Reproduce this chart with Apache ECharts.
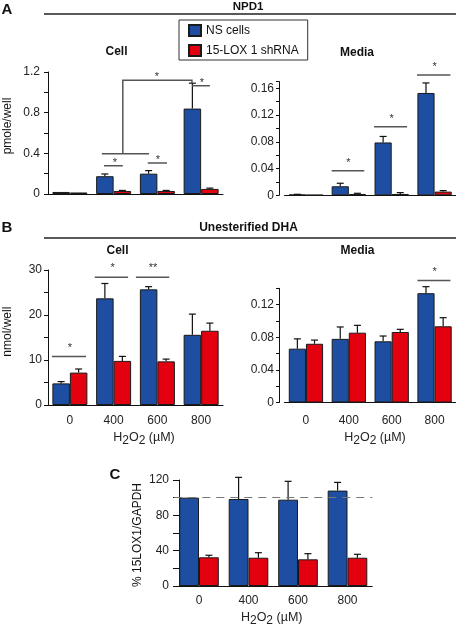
<!DOCTYPE html>
<html>
<head>
<meta charset="utf-8">
<script src="https://cdn.jsdelivr.net/npm/echarts/dist/echarts.min.js"></script>
<style>html,body{margin:0;padding:0;background:#fff;}#c{width:456px;height:624px;}</style>
</head>
<body>
<div id="c"></div>
<script>
// ---------- data ----------
const categories = ['0', '400', '600', '800'];
const seriesNames = ['NS cells', '15-LOX 1 shRNA'];

// A: NPD1 cell (pmole/well)
const npd1CellNS = [0.02, 0.175, 0.2, 0.84];
const npd1CellNSErr = [0, 0.022, 0.03, 0.25];
const npd1CellKD = [0.015, 0.03, 0.03, 0.05];
const npd1CellKDErr = [0, 0.005, 0.005, 0.008];
// A: NPD1 media
const npd1MediaNS = [0.001, 0.0135, 0.079, 0.153];
const npd1MediaNSErr = [0.0005, 0.0045, 0.009, 0.015];
const npd1MediaKD = [0.0005, 0.002, 0.002, 0.0055];
const npd1MediaKDErr = [0, 0.001, 0.002, 0.0015];
// B: unesterified DHA cell (nmol/well)
const dhaCellNS = [4.8, 23.7, 25.7, 15.6];
const dhaCellNSErr = [0.4, 3.3, 0.6, 4.6];
const dhaCellKD = [7.2, 9.8, 9.7, 16.5];
const dhaCellKDErr = [0.8, 1.0, 0.5, 1.7];
// B: unesterified DHA media
const dhaMediaNS = [0.066, 0.078, 0.075, 0.134];
const dhaMediaNSErr = [0.012, 0.0146, 0.0065, 0.008];
const dhaMediaKD = [0.072, 0.0856, 0.0864, 0.0934];
const dhaMediaKDErr = [0.0045, 0.009, 0.0033, 0.0106];
// C: % 15LOX1/GAPDH
const loxNS = [100, 98.5, 97.7, 108];
const loxNSErr = [0, 24.5, 20.8, 9.3];
const loxKD = [32.5, 32, 30.2, 32];
const loxKDErr = [2.3, 5.7, 6.4, 3.9];
const loxReference = 100;

// significance brackets (x in category units, y in data units)
const sigCellA = [
  [[0.78, 0.278], [1.21, 0.278]],
  [[1.78, 0.305], [2.22, 0.305]],
  [[0.73, 0.396], [1.81, 0.396]],
  [[1.21, 0.396], [1.21, 1.12], [2.79, 1.12], [2.79, 1.09]],
  [[2.79, 1.065], [3.2, 1.065]]
];
const starsCellA = [[1.03, 0.334, '*'], [2.01, 0.357, '*'], [1.99, 1.18, '*'], [3.02, 1.12, '*']];
const sigMediaA = [
  [[0.6, 0.0368], [1.36, 0.0368]],
  [[1.59, 0.1026], [2.36, 0.1026]],
  [[2.59, 0.18], [3.37, 0.18]]
];
const starsMediaA = [[0.99, 0.0528, '*'], [2.0, 0.1175, '*'], [3.0, 0.196, '*']];
const sigCellB = [
  [[-0.41, 10.8], [0.37, 10.8]],
  [[0.57, 28.4], [1.33, 28.4]],
  [[1.51, 28.4], [2.27, 28.4]]
];
const starsCellB = [[0, 13.2, '*'], [0.98, 30.9, '*'], [1.9, 30.9, '**']];
const sigMediaB = [
  [[2.6, 0.1495], [3.37, 0.1495]]
];
const starsMediaB = [[3.0, 0.163, '*']];

// ---------- styling ----------
const FONT = 'Liberation Sans, Arial, Helvetica, sans-serif';
const BLUE = '#1d4ea1';
const RED = '#e3000f';
const OFF = 0.2; // bar centre offset in category units

const chart = echarts.init(document.getElementById('c'), null, {renderer: 'canvas'});

function fmtTick(major) {
  return function (v) {
    const k = v / major;
    if (Math.abs(k - Math.round(k)) > 1e-6) return '';
    return String(+v.toFixed(3));
  };
}

const grids = [
  {left: 48, top: 72, width: 175, height: 122},
  {left: 284.5, top: 81.6, width: 171.5, height: 113.7},
  {left: 48, top: 270, width: 175, height: 135},
  {left: 284.5, top: 288.3, width: 171.5, height: 114.2},
  {left: 174.25, top: 480, width: 198, height: 106}
].map(g => Object.assign({outerBoundsMode: 'none', containLabel: false}, g));

const yCfg = [
  {max: 1.2, interval: 0.2, major: 0.4, offset: 0, tickLen: 4, margin: 8},
  {max: 0.17, interval: 0.02, major: 0.04, offset: 5.5, tickLen: 3, margin: 5},
  {max: 30, interval: 5, major: 10, offset: 0, tickLen: 4, margin: 6},
  {max: 0.14, interval: 0.02, major: 0.04, offset: 5.5, tickLen: 3, margin: 5},
  {max: 120, interval: 20, major: 40, offset: -4.75, tickLen: 6, margin: 10}
];
const showXLabels = [false, false, true, true, true];
const xLabelMargin = [10, 10, 10, 12, 9];

const xAxes = [], yAxes = [];
grids.forEach((g, i) => {
  xAxes.push({
    type: 'category', gridIndex: i, data: categories,
    axisLine: {show: true, onZero: false, lineStyle: {color: '#111', width: 1}},
    axisTick: {show: false},
    axisLabel: {show: showXLabels[i], fontFamily: FONT, fontSize: 12, color: '#222', margin: xLabelMargin[i]},
    splitLine: {show: false}
  });
  xAxes.push({type: 'value', gridIndex: i, min: -0.5, max: 3.5, show: false, axisLine: {onZero: false}});
  const c = yCfg[i];
  yAxes.push({
    type: 'value', gridIndex: i, min: 0, max: c.max, interval: c.interval, offset: c.offset,
    axisLine: {show: true, onZero: false, lineStyle: {color: '#111', width: 1}},
    axisTick: {show: true, inside: false, length: c.tickLen, lineStyle: {color: '#111', width: 1}},
    axisLabel: {fontFamily: FONT, fontSize: 12, color: '#222', margin: c.margin, formatter: fmtTick(c.major), hideOverlap: false},
    splitLine: {show: false}
  });
});

function errRender(params, api) {
  const x = api.value(0), v = api.value(1), t = api.value(2);
  if (!(t > v)) return null;
  const p0 = api.coord([x, v]);
  const p1 = api.coord([x, t]);
  const st = {stroke: '#111', lineWidth: 1.2};
  return {
    type: 'group',
    children: [
      {type: 'line', shape: {x1: p0[0], y1: p0[1], x2: p1[0], y2: p1[1]}, style: st},
      {type: 'line', shape: {x1: p1[0] - 3.5, y1: p1[1], x2: p1[0] + 3.5, y2: p1[1]}, style: st}
    ]
  };
}

function sigSeries(gi, brackets, stars) {
  const items = brackets.map((b, i) => ['b', i]).concat(stars.map((s, i) => ['s', i]));
  return {
    type: 'custom', xAxisIndex: gi * 2 + 1, yAxisIndex: gi, clip: false, silent: true, z: 5,
    data: items.map((it, k) => [k]),
    renderItem: function (params, api) {
      const it = items[params.dataIndex];
      if (it[0] === 'b') {
        const pts = brackets[it[1]].map(p => api.coord(p));
        return {type: 'polyline', shape: {points: pts}, style: {stroke: '#555', lineWidth: 1.5, fill: null}};
      }
      const s = stars[it[1]];
      const p = api.coord([s[0], s[1]]);
      return {type: 'text', x: p[0], y: p[1] + 2.5,
        style: {text: s[2], fill: '#333', font: '11px ' + FONT, textAlign: 'center', textVerticalAlign: 'middle'}};
    }
  };
}

const panels = [
  [npd1CellNS, npd1CellNSErr, npd1CellKD, npd1CellKDErr],
  [npd1MediaNS, npd1MediaNSErr, npd1MediaKD, npd1MediaKDErr],
  [dhaCellNS, dhaCellNSErr, dhaCellKD, dhaCellKDErr],
  [dhaMediaNS, dhaMediaNSErr, dhaMediaKD, dhaMediaKDErr],
  [loxNS, loxNSErr, loxKD, loxKDErr]
];

const series = [];
panels.forEach((p, gi) => {
  const [ns, nsE, kd, kdE] = p;
  const blue = {
    name: seriesNames[0], type: 'bar', xAxisIndex: gi * 2, yAxisIndex: gi,
    data: ns, barGap: '0%', barCategoryGap: '20%',
    itemStyle: {color: BLUE, borderColor: '#1a1a1a', borderWidth: 1},
    emphasis: {disabled: true}
  };
  if (gi === 4) {
    blue.markLine = {
      silent: true, symbol: ['none', 'none'], label: {show: false},
      lineStyle: {color: '#777', type: [8, 6], width: 1},
      data: [{yAxis: loxReference}]
    };
  }
  series.push(blue);
  series.push({
    name: seriesNames[1], type: 'bar', xAxisIndex: gi * 2, yAxisIndex: gi,
    data: kd, barGap: '0%', barCategoryGap: '20%',
    itemStyle: {color: RED, borderColor: '#1a1a1a', borderWidth: 1},
    emphasis: {disabled: true}
  });
  const errData = [];
  ns.forEach((v, i) => errData.push([i - OFF, v, v + nsE[i]]));
  kd.forEach((v, i) => errData.push([i + OFF, v, v + kdE[i]]));
  series.push({type: 'custom', name: 'err' + gi, xAxisIndex: gi * 2 + 1, yAxisIndex: gi, data: errData,
    renderItem: errRender, clip: false, silent: true, z: 4});
});
series.push(sigSeries(0, sigCellA, starsCellA));
series.push(sigSeries(1, sigMediaA, starsMediaA));
series.push(sigSeries(2, sigCellB, starsCellB));
series.push(sigSeries(3, sigMediaB, starsMediaB));

function txt(text, x, y, size, bold, align, rot) {
  return {
    type: 'text', x: x, y: y, rotation: rot || 0, silent: true,
    style: {text: text, fill: '#111', font: (bold ? 'bold ' : '') + size + 'px ' + FONT,
      textAlign: align || 'center', textVerticalAlign: 'middle'}
  };
}
function hline(x1, x2, y) {
  return {type: 'line', silent: true, shape: {x1: x1, y1: y, x2: x2, y2: y}, style: {stroke: '#222', lineWidth: 1.3}};
}
function h2o2(x, y) {
  return {
    type: 'text', x: x, y: y + 3, silent: true,
    style: {
      text: '{n|H}{s|2}{n|O}{s|2}{n| (µM)}',
      textAlign: 'center', textVerticalAlign: 'middle', fill: '#222',
      rich: {
        n: {fontFamily: FONT, fontSize: 12.5, lineHeight: 14, verticalAlign: 'top', fill: '#222', color: '#222'},
        s: {fontFamily: FONT, fontSize: 12, lineHeight: 20, verticalAlign: 'middle', fill: '#222', color: '#222'}
      }
    }
  };
}

const graphics = [
  txt('A', 1.5, 10, 15, true, 'left'),
  txt('NPD1', 248, 7, 11.5, true),
  hline(44, 456, 14),
  txt('Cell', 116.5, 52, 12, true),
  txt('Media', 357, 52.5, 12, true),
  txt('B', 1.5, 228, 15, true, 'left'),
  txt('Unesterified DHA', 248.5, 228, 12, true),
  hline(44, 456, 238),
  txt('Cell', 117.5, 251, 12, true),
  txt('Media', 357.5, 251, 12, true),
  txt('C', 109.5, 475, 15, true, 'left'),
  txt('pmole/well', 7.5, 126, 12, false, 'center', Math.PI / 2),
  txt('nmol/well', 7.5, 331.7, 12, false, 'center', Math.PI / 2),
  txt('% 15LOX1/GAPDH', 138, 535, 12, false, 'center', Math.PI / 2),
  h2o2(144, 438),
  h2o2(375, 438),
  h2o2(271.7, 618)
];

chart.setOption({
  animation: false,
  backgroundColor: '#fff',
  grid: grids,
  xAxis: xAxes,
  yAxis: yAxes,
  legend: {
    data: seriesNames, left: 179, top: 20, orient: 'vertical',
    icon: 'rect', itemWidth: 12, itemHeight: 11, itemGap: 7,
    padding: [4, 9, 3, 9], borderColor: '#333', borderWidth: 1,
    textStyle: {fontFamily: FONT, fontSize: 12, color: '#111'},
    selectedMode: false
  },
  graphic: graphics,
  series: series
});
</script>
</body>
</html>
